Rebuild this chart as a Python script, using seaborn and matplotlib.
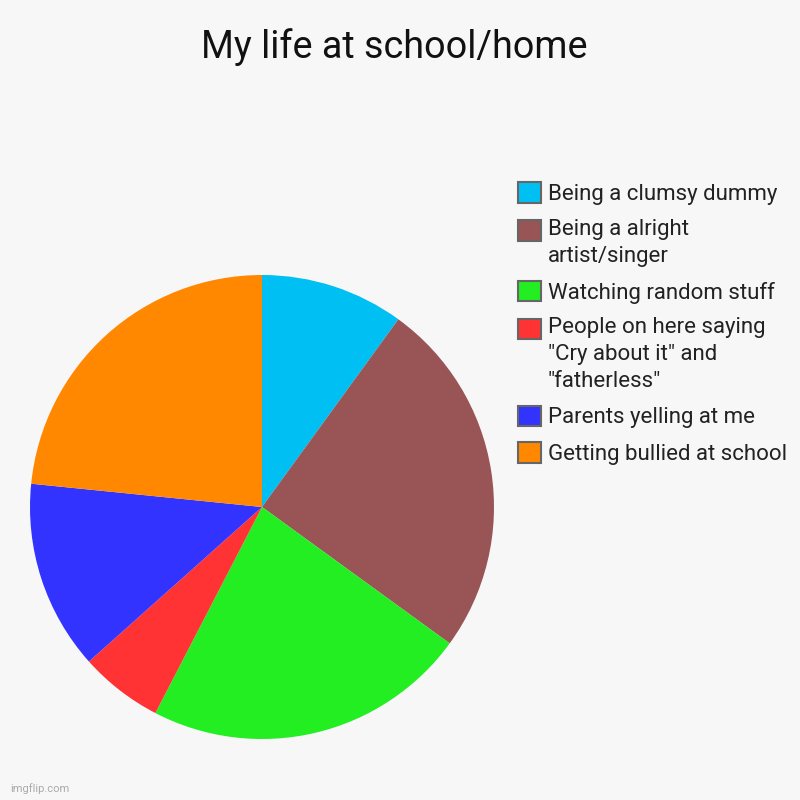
import numpy as np
import pandas as pd
import matplotlib
matplotlib.use('Agg')
import matplotlib.pyplot as plt
from matplotlib.legend_handler import HandlerPatch
from matplotlib.patches import Rectangle
import seaborn as sns

# data (percent of the pie)
labels = ['Being a clumsy dummy',
          'Being a alright\nartist/singer',
          'Watching random stuff',
          'People on here saying\n"Cry about it" and\n"fatherless"',
          'Parents yelling at me',
          'Getting bullied at school']
shares = [10, 25, 22.6, 5.8, 13.2, 23.4]
colours = ['#00BFF3', '#995555', '#22EE22', '#FF3333', '#3333FF', '#FF8800']

sns.set_theme(style='white')
plt.rcParams['font.family'] = ['Roboto', 'DejaVu Sans']

df = pd.DataFrame({'label': labels, 'share': shares, 'colour': colours})

fig = plt.figure(figsize=(8, 8), dpi=100)
fig.patch.set_facecolor('#F7F7F7')

ax = fig.add_axes([0.0375, 0.07625, 0.58, 0.58])
ax.set_facecolor('#F7F7F7')
wedges, _ = ax.pie(df['share'], colors=df['colour'], startangle=90, counterclock=False,
                   radius=1, wedgeprops={'linewidth': 0})
ax.set_xlim(-1, 1)
ax.set_ylim(-1, 1)
ax.set_aspect('equal')
ax.axis('off')

fig.text(0.4925, 0.927, 'My life at school/home', ha='center', va='baseline',
         fontsize=27.2, color='#111111')

# legend boxes sit next to the first line of a wrapped label
extra_lines = {w: lab.count('\n') for w, lab in zip(wedges, labels)}

def top_box(legend, orig_handle, xdescent, ydescent, width, height, fontsize):
    shift = extra_lines[orig_handle] * 9.4
    return Rectangle((-xdescent, -ydescent + shift), width, height)

leg = fig.legend(wedges, df['label'], loc='upper left', bbox_to_anchor=(0.647, 0.772),
                 frameon=False, fontsize=16, handlelength=1.05, handleheight=1.05,
                 handletextpad=0.3, labelspacing=0.625, borderaxespad=0, borderpad=0,
                 handler_map={w: HandlerPatch(patch_func=top_box) for w in wedges})
for h in leg.legend_handles:
    h.set_edgecolor('#666666')
    h.set_linewidth(1.5)
for t in leg.get_texts():
    t.set_color('#222222')
    t.set_linespacing(1.35)

fig.text(0.0125, 0.0075, 'imgflip.com', fontsize=8, color='#AAAAAA', ha='left', va='bottom')

fig.savefig('out.png', dpi=100, facecolor=fig.get_facecolor())
